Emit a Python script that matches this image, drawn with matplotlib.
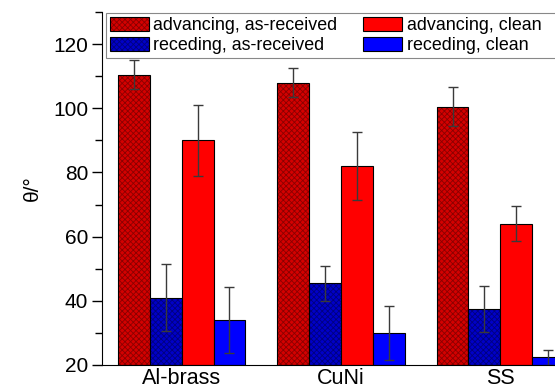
import numpy as np
import matplotlib.pyplot as plt
from matplotlib.patches import Patch, Rectangle
from matplotlib.legend_handler import HandlerTuple
from matplotlib.ticker import MultipleLocator

plt.rcParams['font.family'] = ['Liberation Sans', 'DejaVu Sans']
plt.rcParams['hatch.linewidth'] = 0.6

# data
materials = ['Al-brass', 'CuNi', 'SS']
adv_asrec = [110.5, 108.0, 100.5]
adv_asrec_err = [4.5, 4.5, 6.0]
rec_asrec = [41.0, 45.5, 37.5]
rec_asrec_err = [10.5, 5.5, 7.2]
adv_clean = [90.0, 82.0, 64.0]
adv_clean_err = [11.0, 10.5, 5.5]
rec_clean = [34.0, 30.0, 22.4]
rec_clean_err = [10.3, 8.5, 2.3]

series = [
    ('advancing, as-received', adv_asrec, adv_asrec_err, '#d40000', True),
    ('receding, as-received', rec_asrec, rec_asrec_err, '#0000c8', True),
    ('advancing, clean', adv_clean, adv_clean_err, '#ff0000', False),
    ('receding, clean', rec_clean, rec_clean_err, '#0000ff', False),
]
hatch_col = {'#d40000': '#8a0000', '#0000c8': '#000080'}

fig = plt.figure(figsize=(5.55, 3.9), dpi=100)
ax = fig.add_axes([102 / 555, 25 / 390, 478 / 555, 353 / 390])

x = np.arange(1, len(materials) + 1)
w = 0.2
handles = {}
for i, (name, vals, errs, col, hatched) in enumerate(series):
    pos = x + (i - 1.5) * w
    bottom = 20
    heights = np.array(vals) - bottom
    if hatched:
        ax.bar(pos, heights, w, bottom=bottom, color=col, edgecolor=hatch_col[col],
               hatch='xxxxxx', linewidth=0)
        ax.bar(pos, heights, w, bottom=bottom, fill=False, edgecolor='black', linewidth=0.8)
        h = (Patch(facecolor=col, edgecolor=hatch_col[col], hatch='xxxxxx', linewidth=0),
             Patch(fill=False, edgecolor='black', linewidth=0.8))
    else:
        ax.bar(pos, heights, w, bottom=bottom, color=col, edgecolor='black', linewidth=0.8)
        h = Patch(facecolor=col, edgecolor='black', linewidth=0.8)
    ax.errorbar(pos, vals, yerr=errs, fmt='none', ecolor='#3a3a3a', elinewidth=1,
                capsize=3.5, capthick=1)
    handles[name] = h

ax.set_xlim(0.5, 3.5)
ax.set_ylim(20, 130)
ax.set_xticks(x)
ax.set_xticklabels(materials)
ax.yaxis.set_major_locator(MultipleLocator(20))
ax.yaxis.set_minor_locator(MultipleLocator(10))
ax.tick_params(axis='x', length=0, labelsize=15.5, pad=2)
ax.tick_params(axis='y', which='major', length=7, width=1, labelsize=15, pad=3)
ax.tick_params(axis='y', which='minor', length=5, width=1)
ax.spines['top'].set_visible(False)
ax.spines['right'].set_visible(False)
ax.set_ylabel('θ/°', fontsize=15, labelpad=8)

order = ['advancing, as-received', 'receding, as-received',
         'advancing, clean', 'receding, clean']
leg = ax.legend([handles[n] for n in order], order, ncol=2, loc='upper left',
                bbox_to_anchor=(0.0084, 0.997), borderaxespad=0, fontsize=12.9,
                frameon=False, handlelength=2.2, handleheight=0.85, handletextpad=0.25,
                labelspacing=0.15, columnspacing=1.4, borderpad=0.2,
                handler_map={tuple: HandlerTuple(ndivide=1, pad=0)})

# legend frame runs past the right edge of the picture, as in the original
fig.canvas.draw()
bb = leg.get_window_extent().transformed(fig.transFigure.inverted())
frame = Rectangle((bb.x0, bb.y0), 1.1 - bb.x0, bb.height, transform=fig.transFigure,
                  facecolor='white', edgecolor='#888888', linewidth=0.8, zorder=4)
ax.add_artist(frame)
frame.set_clip_on(False)
leg.set_zorder(5)

fig.savefig('out.png', dpi=100)
